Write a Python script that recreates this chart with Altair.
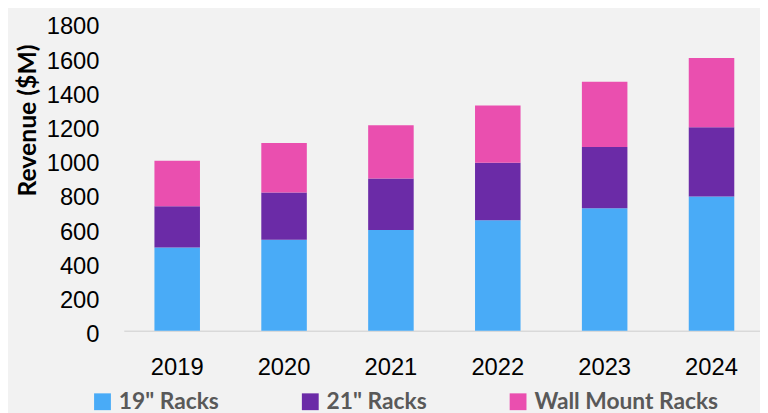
import altair as alt
import pandas as pd

years = ["2019", "2020", "2021", "2022", "2023", "2024"]
series = ['19" Racks', '21" Racks', "Wall Mount Racks"]
racks19 = [487, 532, 590, 647, 717, 786]
racks21 = [241, 277, 300, 336, 358, 405]
wall = [266, 289, 312, 335, 382, 404]
colors = ["#49ABF7", "#6B2BA7", "#EA4FAF"]
y_ticks = [0, 200, 400, 600, 800, 1000, 1200, 1400, 1600, 1800]

rows = []
for i, y in enumerate(years):
    for k, (name, vals) in enumerate(zip(series, [racks19, racks21, wall])):
        rows.append({"year": y, "series": name, "value": vals[i], "order": k})
df = pd.DataFrame(rows)

chart = (
    alt.Chart(df)
    .mark_bar()
    .encode(
        x=alt.X(
            "year:N",
            sort=years,
            scale=alt.Scale(range=[0, 648], paddingInner=0.574, paddingOuter=0.287),
            axis=alt.Axis(
                title=None,
                labelAngle=0,
                labelFont="Liberation Sans",
                labelFontSize=24,
                labelColor="#000000",
                labelPadding=25,
                ticks=False,
                domainColor="#D9D9D9",
                domainWidth=1.6,
                grid=False,
            ),
        ),
        y=alt.Y(
            "value:Q",
            stack="zero",
            scale=alt.Scale(domain=[0, 1800], nice=False, zero=True),
            axis=alt.Axis(
                title="Revenue ($M)",
                values=y_ticks,
                format="d",
                labelFont="Liberation Sans",
                labelFontSize=24,
                labelColor="#000000",
                labelPadding=25,
                labelBaseline="middle",
                labelOffset=4,
                labelOverlap=False,
                ticks=False,
                domain=False,
                grid=False,
                titleFont="Lato",
                titleFontWeight="bold",
                titleFontSize=25,
                titleColor="#000000",
                titleAngle=270,
                titleAlign="center",
                titleBaseline="middle",
                titleX=-97,
                titleY=98,
            ),
        ),
        color=alt.Color(
            "series:N",
            scale=alt.Scale(domain=series, range=colors),
            legend=alt.Legend(
                title=None,
                orient="none",
                direction="horizontal",
                legendX=-33,
                legendY=371,
                symbolType="square",
                symbolSize=289,
                symbolStrokeWidth=0,
                symbolOpacity=1,
                labelFont="Lato",
                labelFontWeight="bold",
                labelFontSize=23,
                labelColor="#595959",
                labelOffset=5,
                columnPadding=80,
                labelLimit=400,
            ),
        ),
        order=alt.Order("order:Q", sort="ascending"),
    )
    .properties(
        width=643,
        height=311,
        background="#F2F2F2",
        autosize=alt.AutoSizeParams(type="none"),
        padding={"left": 117, "top": 13, "right": 0, "bottom": 89},
    )
    .configure_view(strokeWidth=0)
)

chart.save("out.html", embed_options={"renderer": "svg", "actions": False})
